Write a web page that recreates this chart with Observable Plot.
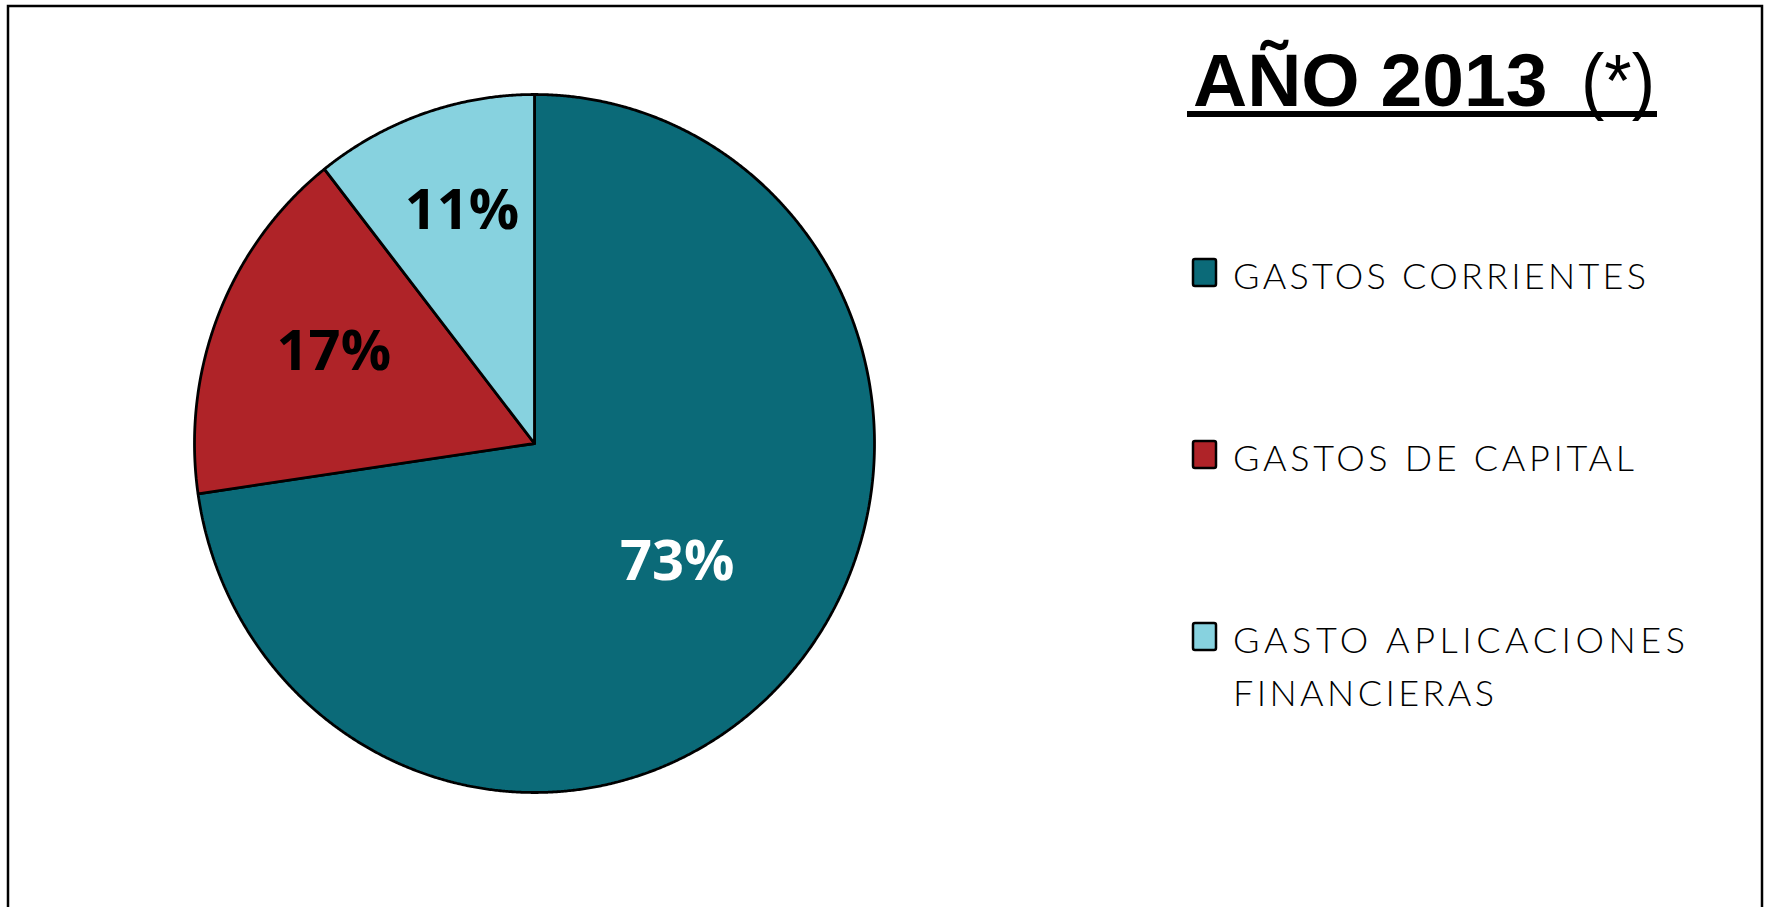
<!DOCTYPE html>
<html><head><meta charset="utf-8">
<script src="https://cdn.jsdelivr.net/npm/d3@7"></script>
<script src="https://cdn.jsdelivr.net/npm/@observablehq/plot@0.6"></script>
<style>html,body{margin:0;padding:0;background:#fff;} #chart{width:1765px;height:907px;overflow:hidden;position:relative}</style>
</head><body><div id="chart"></div>
<script>
// ---- data ----
const categories = ["GASTOS CORRIENTES", "GASTOS DE CAPITAL", "GASTO APLICACIONES FINANCIERAS"];
const shares = [72.7, 16.7, 10.6];
const colors = ["#0b6a78", "#af2328", "#87d2df"];
const labelColors = ["#ffffff", "#000000", "#000000"];
const legendLines = [["GASTOS CORRIENTES"], ["GASTOS DE CAPITAL"], ["GASTO APLICACIONES", "FINANCIERAS"]];
const titleText = "AÑO 2013";
const titleNote = "(*)";

// ---- style constants ----
const labelRadius = [0.555, 0.645, 0.68];
const legendWidths = [[413], [401], [452, 261]];

const rows = categories.map((c, i) => ({cat: c, value: shares[i], idx: i}));
const arcs = d3.pie().value(d => d.value).sort(null)(rows);
const outline = [];
arcs.forEach(a => {
  const n = Math.max(2, Math.ceil((a.endAngle - a.startAngle) / (Math.PI / 720)));
  outline.push({cat: a.data.cat, x: 0, y: 0});
  for (let k = 0; k <= n; k++) {
    const t = a.startAngle + (a.endAngle - a.startAngle) * k / n;
    outline.push({cat: a.data.cat, x: Math.sin(t), y: Math.cos(t)});
  }
  outline.push({cat: a.data.cat, x: 0, y: 0});
});
const labels = arcs.map((a, i) => {
  const m = (a.startAngle + a.endAngle) / 2;
  return {cat: a.data.cat, idx: i, text: Math.round(a.data.value) + "%",
          x: labelRadius[i] * Math.sin(m), y: labelRadius[i] * Math.cos(m),
          white: labelColors[i] === "#ffffff"};
});

const plot = Plot.plot({
  width: 1765, height: 907, margin: 0,
  x: {domain: [-1, 1], range: [194, 874], axis: null},
  y: {domain: [-1, 1], range: [792, 94], axis: null},
  color: {domain: categories, range: colors},
  style: {background: "#fff", fontFamily: "Open Sans"},
  marks: [
    Plot.line(outline, {x: "x", y: "y", z: "cat", fill: "cat", stroke: "#000", strokeWidth: 2.8, strokeLinejoin: "miter", curve: "linear"}),
    Plot.text(labels, {filter: d => d.white, x: "x", y: "y", dy: -8, text: "text", fill: "#fff", fontSize: 56, fontWeight: 700, fontFamily: "Open Sans"}),
    Plot.text(labels, {filter: d => !d.white, x: "x", y: "y", dy: -8, dx: 3, text: "text", fill: "#000", fontSize: 56, fontWeight: 700, fontFamily: "Open Sans"})
  ]
});
document.getElementById("chart").appendChild(plot);

const color = plot.scale("color");
const svg = d3.select(plot);
// outer frame
svg.append("rect").attr("x", 8).attr("y", 6).attr("width", 1754).attr("height", 1000)
  .attr("fill", "none").attr("stroke", "#000").attr("stroke-width", 2.5);

// title
svg.append("text").attr("x", 1193).attr("y", 106).attr("text-anchor", "start")
  .attr("font-family", "'Liberation Sans', Arial, sans-serif").attr("font-size", 75)
  .attr("font-weight", 700).attr("fill", "#000").text(titleText);
svg.append("text").attr("x", 1581).attr("y", 106).attr("text-anchor", "start")
  .attr("font-family", "'Liberation Sans', Arial, sans-serif").attr("font-size", 75)
  .attr("font-weight", 400).attr("fill", "#000")
  .attr("textLength", 74).attr("lengthAdjust", "spacingAndGlyphs").text(titleNote);
svg.append("rect").attr("x", 1187).attr("y", 111).attr("width", 470).attr("height", 6).attr("fill", "#000");

// legend
categories.forEach((c, i) => {
  const y0 = 259 + 182 * i;
  svg.append("rect").attr("x", 1193).attr("y", y0).attr("width", 23).attr("height", 27).attr("rx", 2)
    .attr("fill", color.apply(c)).attr("stroke", "#000").attr("stroke-width", 2.5);
  legendLines[i].forEach((line, j) => {
    svg.append("text").attr("x", 1233).attr("y", y0 + 30 + 53 * j).attr("text-anchor", "start")
      .attr("font-family", "Lato, sans-serif").attr("font-size", 36).attr("font-weight", 300)
      .attr("fill", "#000")
      .attr("textLength", legendWidths[i][j]).attr("lengthAdjust", "spacing")
      .text(line);
  });
});
</script>
</body></html>
